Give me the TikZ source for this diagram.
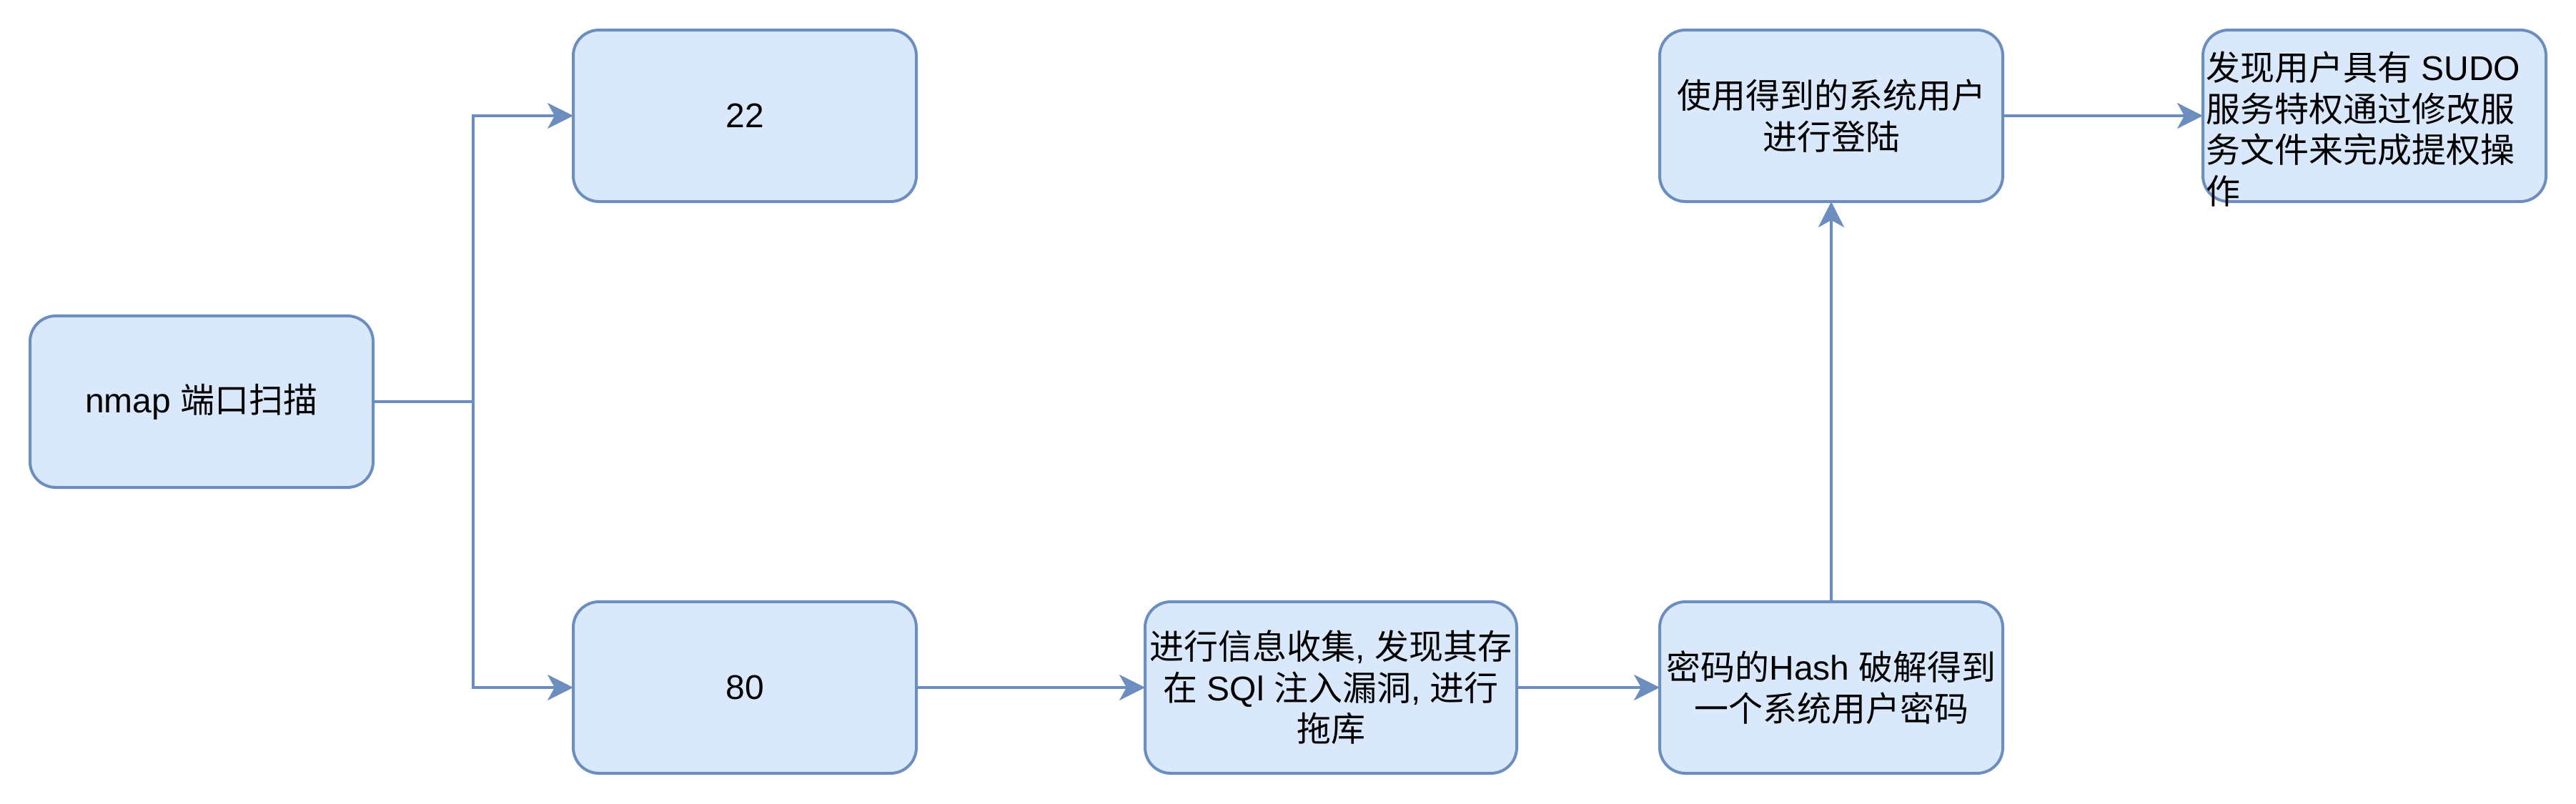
\documentclass[tikz,border=0pt]{standalone}
\usepackage{fontspec}
\setmainfont{Liberation Sans}
\newfontfamily\cjk{Noto Sans CJK SC}
\usetikzlibrary{arrows.meta}
\definecolor{boxline}{HTML}{6C8EBF}
\definecolor{boxfill}{HTML}{DAE8FC}
\newcommand\zh[1]{{\cjk #1}}
\begin{document}
\begin{tikzpicture}[x=1pt,y=-1pt,
  box/.style={draw=boxline, fill=boxfill, line width=1pt, rounded corners=9pt,
    minimum width=120pt, minimum height=60pt, inner sep=0pt, outer sep=0pt,
    align=center, font=\fontsize{12}{14.4}\selectfont},
  boxtext/.style={inner sep=0pt, outer sep=0pt, align=left, font=\fontsize{12}{14.4}\selectfont},
  arr/.style={draw=boxline, line width=1pt, -{Stealth[length=9pt,width=9pt,inset=2.5pt]}}]
\useasboundingbox (-0.5,-0.5) rectangle (900.5,280.5);

\node[box] (nmap) at (70,140) {nmap \zh{端口扫描}};
\node[box] (p22) at (260,40) {22};
\node[box] (p80) at (260,240) {80};
\node[box, minimum width=130pt] (sql) at (465,240)
  {\zh{进行信息收集}, \zh{发现其存}\\\zh{在} SQl \zh{注入漏洞}, \zh{进行}\\\zh{拖库}};
\node[box] (hash) at (640,240) {\zh{密码的}Hash \zh{破解得到}\\\zh{一个系统用户密码}};
\node[box] (login) at (640,40) {\zh{使用得到的系统用户}\\\zh{进行登陆}};
\node[box] (sudo) at (830,40) {};
\node[boxtext, anchor=north west] (sudotext) at (771,17.5)
  {\zh{发现用户具有} SUDO\\\zh{服务特权通过修改服}\\\zh{务文件来完成提权操}\\\zh{作}};

\coordinate (j) at (165,140);
\draw[arr] (nmap.east) -- (j) |- (p22.west);
\draw[arr] (j) |- (p80.west);
\draw[arr] (p80.east) -- (sql.west);
\draw[arr] (sql.east) -- (hash.west);
\draw[arr] (hash.north) -- (login.south);
\draw[arr] (login.east) -- (sudo.west);
\end{tikzpicture}
\end{document}
